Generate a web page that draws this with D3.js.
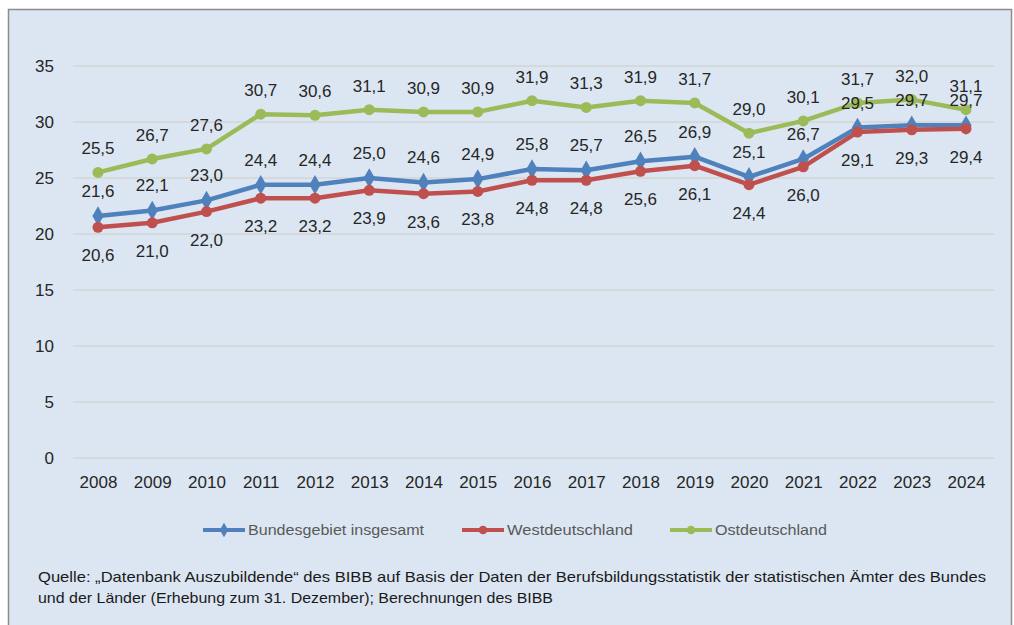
<!DOCTYPE html>
<html>
<head>
<meta charset="utf-8">
<script src="https://cdn.jsdelivr.net/npm/d3@7"></script>
<style>
  body { margin: 0; background: #fff; }
  svg { display: block; }
</style>
</head>
<body>
<svg id="chart" width="1014" height="625"></svg>
<script>
const years = ["2008","2009","2010","2011","2012","2013","2014","2015","2016","2017","2018","2019","2020","2021","2022","2023","2024"];
const bund = [21.6, 22.1, 23.0, 24.4, 24.4, 25.0, 24.6, 24.9, 25.8, 25.7, 26.5, 26.9, 25.1, 26.7, 29.5, 29.7, 29.7];
const west = [20.6, 21.0, 22.0, 23.2, 23.2, 23.9, 23.6, 23.8, 24.8, 24.8, 25.6, 26.1, 24.4, 26.0, 29.1, 29.3, 29.4];
const ost = [25.5, 26.7, 27.6, 30.7, 30.6, 31.1, 30.9, 30.9, 31.9, 31.3, 31.9, 31.7, 29.0, 30.1, 31.7, 32.0, 31.1];
const yTicks = [0, 5, 10, 15, 20, 25, 30, 35];
const seriesNames = ["Bundesgebiet insgesamt", "Westdeutschland", "Ostdeutschland"];
const sourceLines = [
  "Quelle: \u201EDatenbank Auszubildende\u201C des BIBB auf Basis der Daten der Berufsbildungsstatistik der statistischen \u00C4mter des Bundes",
  "und der L\u00E4nder (Erhebung zum 31. Dezember); Berechnungen des BIBB"
];

const font = "'Liberation Sans', Arial, sans-serif";
const svg = d3.select("#chart");

// background panel
svg.append("rect")
  .attr("x", 8.5).attr("y", 9.5)
  .attr("width", 1003).attr("height", 625)
  .attr("fill", "#dce6f2")
  .attr("stroke", "#8c8c8c")
  .attr("stroke-width", 1.5);

const x = d3.scalePoint().domain(years).range([98, 966]);
const y = d3.scaleLinear().domain([0, 35]).range([458, 66]);

// gridlines
svg.append("g")
  .selectAll("line")
  .data(yTicks)
  .join("line")
  .attr("x1", 73).attr("x2", 994)
  .attr("y1", d => y(d)).attr("y2", d => y(d))
  .attr("stroke", "#d4d4d4")
  .attr("stroke-width", 1.5);

// y axis
const yAxis = svg.append("g")
  .attr("transform", "translate(54,0)")
  .call(d3.axisLeft(y).tickValues(yTicks).tickSize(0).tickPadding(0));
yAxis.select(".domain").remove();
yAxis.selectAll("text")
  .attr("font-family", font).attr("font-size", 17).attr("fill", "#262626");

// x axis
const xAxis = svg.append("g")
  .attr("transform", "translate(0,470)")
  .call(d3.axisBottom(x).tickSize(0).tickPadding(6));
xAxis.select(".domain").remove();
xAxis.selectAll("text")
  .attr("font-family", font).attr("font-size", 17).attr("fill", "#262626");

const series = [
  { name: seriesNames[0], values: bund, color: "#4f81bd", marker: "diamond", labelDy: -19, legendW: 176 },
  { name: seriesNames[1], values: west, color: "#c0504d", marker: "circle", labelDy: 34, legendW: 126 },
  { name: seriesNames[2], values: ost, color: "#9bbb59", marker: "circle", labelDy: -18, legendW: 112 }
];

const line = d3.line().x((d, i) => x(years[i])).y(d => y(d));
const fmt = v => d3.format(".1f")(v).replace(".", ",");

series.forEach(s => {
  const g = svg.append("g");
  g.append("path")
    .datum(s.values)
    .attr("d", line)
    .attr("fill", "none")
    .attr("stroke", s.color)
    .attr("stroke-width", 4.5)
    .attr("stroke-linejoin", "round");
  const sym = d3.symbol()
    .type(s.marker === "diamond" ? d3.symbolDiamond : d3.symbolCircle)
    .size(s.marker === "diamond" ? 110 : 95);
  g.selectAll(".m")
    .data(s.values)
    .join("path")
    .attr("transform", (d, i) => `translate(${x(years[i])},${y(d)})`)
    .attr("d", sym)
    .attr("fill", s.color);
});

// data labels on top
series.forEach(s => {
  svg.append("g")
    .selectAll("text")
    .data(s.values)
    .join("text")
    .attr("x", (d, i) => x(years[i]))
    .attr("y", d => y(d) + s.labelDy)
    .attr("text-anchor", "middle")
    .attr("font-family", font)
    .attr("font-size", 17)
    .attr("fill", "#262626")
    .text(fmt);
});

// legend
const legendX = [203, 462, 670];
const legend = svg.append("g").attr("transform", "translate(0,530)");
series.forEach((s, i) => {
  const lg = legend.append("g").attr("transform", `translate(${legendX[i]},0)`);
  lg.append("line")
    .attr("x1", 0).attr("x2", 42)
    .attr("stroke", s.color).attr("stroke-width", 4);
  lg.append("path")
    .attr("transform", "translate(21,0)")
    .attr("d", d3.symbol().type(s.marker === "diamond" ? d3.symbolDiamond : d3.symbolCircle).size(60))
    .attr("fill", s.color);
  lg.append("text")
    .attr("x", 45).attr("y", 5)
    .attr("font-family", font).attr("font-size", 15)
    .attr("fill", "#595959")
    .attr("textLength", s.legendW)
    .attr("lengthAdjust", "spacingAndGlyphs")
    .text(s.name);
});

// source note
svg.append("g")
  .selectAll("text")
  .data(sourceLines)
  .join("text")
  .attr("x", 38)
  .attr("y", (d, i) => 582 + i * 21)
  .attr("font-family", font)
  .attr("font-size", 15)
  .attr("fill", "#1a1a1a")
  .attr("textLength", (d, i) => i === 0 ? 948 : 515)
  .attr("lengthAdjust", "spacingAndGlyphs")
  .text(d => d);
</script>
</body>
</html>
